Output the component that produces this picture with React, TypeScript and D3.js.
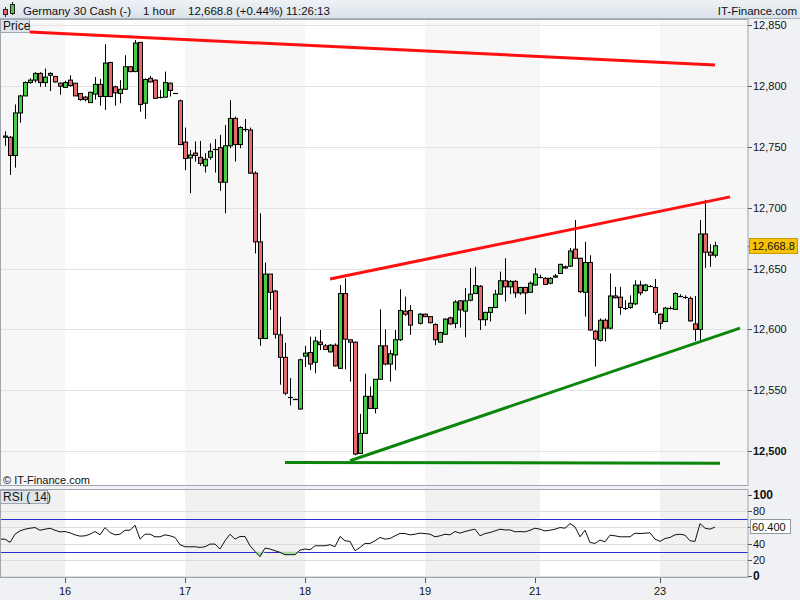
import React, { useEffect } from 'react';
import * as d3 from 'd3';

// ---- data (hourly candles, index 0..142; index 82 has no candle) ----
const OPEN = [
  12758, 12758, 12743, 12778, 12792, 12803, 12805, 12810.5, 12803, 12809,
  12808, 12802.5, 12799, 12805, 12802.5, 12794, 12791, 12786.5, 12793.5, 12801.5,
  12791.5, 12819.5, 12799.5, 12794, 12797.5, 12816, 12812, 12836, 12786, 12806.5,
  12805, 12791, 12791, 12802.5, 12794, 12788, 12754, 12741, 12745, 12741.5,
  12734.5, 12741.5, 12748, 12749.5, 12721, 12751, 12773.5, 12752, 12765, 12764,
  12728.5, 12672, 12592.5, 12645.5, 12631.5, 12595.5, 12577, 12544.5, 12542.5, 12534.5,
  12578, 12581, 12573, 12589.5, 12586.5, 12581.5, 12587, 12568, 12629.5, 12591.5,
  12589.5, 12498, 12514.5, 12545, 12535, 12559, 12586.5, 12571.5, 12579, 12591.5,
  12615, 12615.5, null, 12605, 12612.5, 12610.5, 12604, 12589.5, 12596, 12609.5,
  12605, 12623.5, 12615, 12624, 12629.5, 12635.5, 12608, 12614, 12618, 12629,
  12640, 12635, 12639.5, 12630, 12634.5, 12630.5, 12636.5, 12643.5, 12642, 12638,
  12643, 12646, 12651.5, 12652, 12666, 12658.5, 12630.5, 12655, 12598.5, 12591,
  12607.5, 12601, 12627.5, 12626.5, 12618, 12618, 12621, 12636.5, 12632, 12636,
  12634.5, 12612.5, 12606.5, 12618, 12616.5, 12627.5, 12626.5, 12625.5, 12604.5, 12600,
  12678.5, 12663.5, 12661,
];
const HIGH = [
  12763, 12759, 12785, 12793, 12804, 12806.5, 12811.5, 12811.5, 12814.5, 12811.5,
  12808.5, 12803, 12804.5, 12809, 12802.5, 12794.5, 12792, 12795.5, 12807.5, 12806,
  12834.5, 12820, 12800.5, 12805, 12825.5, 12816.5, 12838, 12836.5, 12806.5, 12808.5,
  12805.5, 12797, 12812, 12803, 12794, 12789, 12766, 12747.5, 12754.5, 12755,
  12745, 12753, 12756.5, 12760, 12768, 12788.5, 12775, 12767, 12773, 12766,
  12730, 12695.5, 12655, 12645.5, 12632.5, 12610.5, 12589, 12560, 12543, 12576,
  12586.5, 12594, 12594, 12599.5, 12588, 12588, 12588.5, 12636.5, 12642, 12591.5,
  12590, 12530.5, 12563.5, 12553, 12559, 12616.5, 12600, 12583, 12599.5, 12633,
  12627, 12620, null, 12613.5, 12613, 12611, 12605, 12598, 12609, 12610.5,
  12624, 12624, 12634, 12650.5, 12651.5, 12636.5, 12614.5, 12618.5, 12632.5, 12647.5,
  12658.5, 12640.5, 12640.5, 12635, 12635, 12639.5, 12650.5, 12645, 12643, 12643,
  12645.5, 12654, 12652.5, 12667, 12690, 12659, 12672, 12661, 12599.5, 12609,
  12609, 12646, 12635, 12635, 12624, 12628, 12640.5, 12640, 12637.5, 12636.5,
  12641.5, 12613, 12618.5, 12619, 12630.5, 12629, 12628, 12627, 12627.5, 12690,
  12706.5, 12670, 12672,
];
const LOW = [
  12751, 12727, 12733, 12770, 12792, 12802, 12803, 12799.5, 12799.5, 12796,
  12803, 12793, 12799, 12799.5, 12792, 12788, 12787.5, 12786.5, 12789, 12784,
  12780.5, 12791, 12784, 12786, 12797, 12811.5, 12811.5, 12779, 12773, 12803,
  12790, 12790, 12791, 12791.5, 12794, 12751.5, 12731, 12712, 12738, 12734.5,
  12729, 12739.5, 12729, 12714, 12695.5, 12749, 12738, 12749, 12762.5, 12728,
  12662.5, 12586.5, 12592, 12616, 12592.5, 12554.5, 12546, 12537.5, 12542, 12534,
  12569, 12566.5, 12564, 12583, 12583, 12581, 12569.5, 12567.5, 12567, 12557,
  12496.5, 12497.5, 12514.5, 12535, 12531, 12559, 12570.5, 12557, 12566.5, 12590.5,
  12611, 12595.5, null, 12604, 12610, 12605, 12587, 12589, 12595.5, 12604,
  12601, 12601.5, 12593.5, 12623, 12629, 12599.5, 12603, 12606.5, 12617.5, 12628.5,
  12623, 12629, 12626, 12628.5, 12612.5, 12630, 12636, 12642, 12636.5, 12637,
  12642.5, 12645.5, 12650, 12651.5, 12658, 12630, 12610.5, 12599, 12569.5, 12590,
  12590, 12600, 12625.5, 12612, 12616, 12617, 12620, 12628, 12631, 12635.5,
  12612, 12600, 12606, 12616.5, 12616, 12626.5, 12625, 12606.5, 12590.5, 12590.5,
  12650.5, 12651.5, 12659,
];
const CLOSE = [
  12759, 12743, 12778, 12792, 12803, 12805, 12810.5, 12803, 12807.5, 12810.5,
  12803.5, 12800, 12803, 12800.5, 12792, 12789, 12789, 12795, 12801.5, 12791.5,
  12819, 12791.5, 12794.5, 12797.5, 12816, 12812, 12835.5, 12785, 12805.5, 12803.5,
  12790, 12791, 12803, 12796.5, 12794, 12752, 12740.5, 12743.5, 12743, 12736.5,
  12740, 12746.5, 12748, 12721, 12751, 12773.5, 12752, 12766, 12765, 12728.5,
  12672, 12592.5, 12645.5, 12630.5, 12596, 12577, 12547.5, 12544.5, 12542.5, 12575,
  12580.5, 12571.5, 12590.5, 12587.5, 12583.5, 12587, 12570, 12629.5, 12592, 12589.5,
  12497.5, 12514.5, 12545, 12535, 12559, 12586.5, 12571.5, 12580, 12591.5, 12615.5,
  12612.5, 12603.5, null, 12612.5, 12610.5, 12605.5, 12591.5, 12597.5, 12608.5, 12604.5,
  12622.5, 12616, 12623.5, 12629, 12636, 12608, 12614, 12618, 12629, 12640,
  12635, 12639.5, 12630, 12634.5, 12630, 12638, 12645.5, 12643.5, 12637, 12642,
  12644, 12653.5, 12650.5, 12664.5, 12658.5, 12631, 12655, 12599.5, 12592, 12607.5,
  12601, 12627.5, 12626, 12618, 12618, 12621.5, 12636.5, 12630, 12636.5, 12636,
  12614, 12605, 12617.5, 12618, 12629.5, 12627.5, 12626.5, 12607, 12600, 12678.5,
  12663.5, 12661, 12668.8,
];
// RSI(14), first value belongs to index -1
const RSI_START = -1;
const RSI = [
  45.5,
  45.5, 41.4, 51.6, 55.7, 57.8, 59.0, 59.8, 56.5, 57.8, 59.0,
  56.5, 54.5, 54.9, 53.3, 50.8, 49.2, 49.6, 51.6, 54.9, 50.8,
  59.8, 53.7, 50.8, 51.6, 56.5, 56.5, 62.7, 45.5, 51.6, 51.6,
  48.4, 48.4, 50.8, 49.6, 47.6, 38.6, 36.1, 36.1, 36.1, 35.3,
  36.1, 39.4, 39.4, 33.3, 43.5, 51.6, 45.5, 48.8, 48.8, 37.3,
  30.4, 23.9, 34.5, 33.3, 31.2, 29.2, 26.3, 26.3, 26.3, 32.0,
  33.3, 32.4, 37.3, 37.3, 37.3, 38.6, 36.1, 48.8, 43.5, 42.7,
  31.2, 35.3, 40.2, 40.2, 43.5, 47.6, 45.5, 46.3, 49.6, 52.6,
  52.4, 50.8, 51.6, 52.9, 52.4, 51.6, 48.4, 49.6, 51.6, 50.8,
  54.9, 52.9, 54.9, 56.5, 57.8, 49.6, 52.4, 53.7, 55.7, 57.8,
  56.9, 56.9, 54.5, 54.9, 54.5, 56.5, 59.0, 57.8, 55.7, 56.5,
  57.8, 59.8, 59.0, 64.7, 60.6, 48.4, 56.5, 41.4, 40.2, 44.3,
  42.2, 50.4, 49.6, 48.4, 48.4, 48.4, 52.9, 52.4, 52.9, 53.3,
  45.5, 42.7, 46.3, 47.6, 50.8, 51.6, 50.4, 43.5, 42.7, 64.7,
  59.0, 57.8, 60.4,
];

const DAY_LABELS = ['16', '17', '18', '19', '21', '23'];
const DAY_TICK_INDEX = [12, 36, 60, 84, 106, 131];
const SHADE_BANDS: [number, number][] = [[-1, 12], [36, 60], [84, 107], [131, 150]];
const PRICE_TICKS = [12500, 12550, 12600, 12650, 12700, 12750, 12800, 12850];
const RSI_TICKS = [100, 80, 40, 20, 0];
const RSI_LEVELS = [70, 30];
const LAST_PRICE = 12668.8;
const LAST_RSI = 60.4;
// trend lines: [candle index, price]
const RED_LINES: [number, number][][] = [
  [[5, 12844.5], [142, 12817.5]],
  [[65, 12641.5], [145, 12709]],
];
const GREEN_LINES: [number, number][][] = [
  [[69, 12492], [147, 12601]],
  [[56, 12490.5], [143, 12490]],
];

const FONT = "'Liberation Sans', Arial, Helvetica, sans-serif";

export default function App() {
  useEffect(() => {
    document.body.style.margin = '0';
  }, []);

  const W = 800, H = 600;
  const plotR = 748;
  const mainTop = 19, mainBot = 486;
  const rsiTop = 489, rsiBot = 578;

  const x = d3.scaleLinear().domain([0, 142]).range([5, 715]);
  const y = d3.scaleLinear().domain([12500, 12850]).range([451, 25.4]);
  const yr = d3.scaleLinear().domain([0, 100]).range([576, 495]);

  const fmt = d3.format(',.0f');
  const fmt1 = d3.format(',.1f');

  const candles = CLOSE.map((c, i) => ({ i, o: OPEN[i], h: HIGH[i], l: LOW[i], c })).filter(d => d.c != null) as any[];

  const rsiPts = RSI.map((r, k) => ({ i: k + RSI_START, r }));
  const rsiLine = d3.line<any>().x(d => x(d.i)).y(d => yr(d.r));
  const rsiArea = d3.area<any>().x(d => x(d.i)).y0(yr(30)).y1(d => yr(Math.min(d.r, 30)));
  const tl = d3.line<[number, number]>().x(d => x(d[0])).y(d => y(d[1]));

  const RED = '#e46b6b';
  const GREEN = '#48cc48';

  return (
    <div style={{ position: 'absolute', left: 0, top: 0 }}>
      <svg width={W} height={H} style={{ display: 'block', fontFamily: FONT }}>
        <defs>
          <linearGradient id="hdr" x1="0" x2="0" y1="0" y2="1">
            <stop offset="0" stopColor="#eef2f6" />
            <stop offset="1" stopColor="#dbe2ea" />
          </linearGradient>
          <clipPath id="mainClip"><rect x={0} y={mainTop} width={plotR} height={mainBot - mainTop} /></clipPath>
          <clipPath id="rsiClip"><rect x={0} y={rsiTop} width={plotR} height={rsiBot - rsiTop} /></clipPath>
        </defs>
        <rect x={0} y={0} width={W} height={H} fill="#eff1f4" />
        {/* header */}
        <rect x={0} y={0} width={W} height={18} fill="url(#hdr)" />
        <line x1={0} x2={W} y1={18.5} y2={18.5} stroke="#a9b2bc" />
        <g>
          <line x1={5.5} x2={5.5} y1={7} y2={17} stroke="#222" />
          <rect x={3.5} y={9.5} width={4} height={5} fill={RED} stroke="#222" />
          <line x1={12.5} x2={12.5} y1={2} y2={15} stroke="#222" />
          <rect x={10.5} y={4.5} width={4} height={9} fill={GREEN} stroke="#222" />
        </g>
        <g fontSize={11.5} fill="#111">
          <text x={23} y={15}>Germany 30 Cash (-)</text>
          <text x={143} y={15}>1 hour</text>
          <text x={188} y={15}>12,668.8 (+0.44%)</text>
          <text x={286} y={15}>11:26:13</text>
          <text x={797} y={15} textAnchor="end">IT-Finance.com</text>
        </g>

        {/* main panel */}
        <rect x={0} y={mainTop} width={plotR} height={mainBot - mainTop} fill="#ffffff" />
        <g clipPath="url(#mainClip)">
          {SHADE_BANDS.map(([a, b], k) => (
            <rect key={k} x={x(a)} y={mainTop} width={x(b) - x(a)} height={mainBot - mainTop} fill="#f7f7f7" />
          ))}
          {PRICE_TICKS.map(v => (
            <line key={v} x1={0} x2={plotR} y1={Math.round(y(v)) + 0.5} y2={Math.round(y(v)) + 0.5} stroke="#e3e3e3" />
          ))}
          {candles.map(d => {
            const px = Math.round(x(d.i));
            const up = d.c >= d.o;
            const yo = y(d.o), yc = y(d.c);
            const top = Math.min(yo, yc), hgt = Math.abs(yo - yc);
            return (
              <g key={d.i}>
                <line x1={px + 0.5} x2={px + 0.5} y1={y(d.h)} y2={y(d.l)} stroke="#000" strokeWidth={1} />
                {hgt < 1.2 ? (
                  <line x1={px - 2} x2={px + 3} y1={Math.round(yc) + 0.5} y2={Math.round(yc) + 0.5} stroke="#000" strokeWidth={1.2} />
                ) : (
                  <rect x={px - 1.5} y={top} width={4} height={hgt} fill={up ? GREEN : RED} stroke="#000" strokeWidth={1} />
                )}
              </g>
            );
          })}
          {RED_LINES.map((l, k) => <path key={'r' + k} d={tl(l) || ''} stroke="#ff1010" strokeWidth={3} fill="none" />)}
          {GREEN_LINES.map((l, k) => <path key={'g' + k} d={tl(l) || ''} stroke="#0b860b" strokeWidth={3} fill="none" />)}
        </g>
        <rect x={0.5} y={mainTop + 0.5} width={plotR - 0.5} height={mainBot - mainTop - 1} fill="none" stroke="#9ea7b0" />
        <rect x={0.5} y={19.5} width={29} height={13} fill="#dfe5eb" stroke="#9ea7b0" />
        <text x={3} y={30} fontSize={12} fill="#111">Price</text>
        <text x={3} y={484} fontSize={11} fill="#111">© IT-Finance.com</text>

        {/* main axis */}
        {PRICE_TICKS.map(v => (
          <g key={v}>
            <line x1={plotR} x2={plotR + 4} y1={Math.round(y(v)) + 0.5} y2={Math.round(y(v)) + 0.5} stroke="#555" />
            <text x={753} y={y(v) + 4} fontSize={11} fill="#111" fontWeight={v === 12500 ? 'bold' : 'normal'}>{fmt(v)}</text>
          </g>
        ))}
        <line x1={plotR} x2={plotR + 4} y1={Math.round(y(LAST_PRICE)) + 0.5} y2={Math.round(y(LAST_PRICE)) + 0.5} stroke="#555" />
        <rect x={749.5} y={Math.round(y(LAST_PRICE)) - 7.5} width={48} height={15} fill="#f6c20a" stroke="#c99a00" />
        <text x={752} y={y(LAST_PRICE) + 4} fontSize={11} fill="#111">{fmt1(LAST_PRICE)}</text>

        {/* RSI panel */}
        <rect x={0} y={rsiTop} width={plotR} height={rsiBot - rsiTop} fill="#ffffff" />
        <g clipPath="url(#rsiClip)">
          {SHADE_BANDS.map(([a, b], k) => (
            <rect key={k} x={x(a)} y={rsiTop} width={x(b) - x(a)} height={rsiBot - rsiTop} fill="#f1f1f1" />
          ))}
          {[80, 60, 40, 20, 0].map(v => (
            <line key={v} x1={0} x2={plotR} y1={Math.round(yr(v)) + 0.5} y2={Math.round(yr(v)) + 0.5} stroke="#dcdcdc" />
          ))}
          {RSI_LEVELS.map(v => (
            <line key={v} x1={0} x2={plotR} y1={Math.round(yr(v)) + 0.5} y2={Math.round(yr(v)) + 0.5} stroke="#2b2bd6" />
          ))}
          <path d={rsiArea(rsiPts) || ''} fill="#a6dca6" />
          <path d={rsiLine(rsiPts) || ''} fill="none" stroke="#111" strokeWidth={1} />
        </g>
        <rect x={0.5} y={rsiTop + 0.5} width={plotR - 0.5} height={rsiBot - rsiTop - 1} fill="none" stroke="#9ea7b0" />
        <rect x={0.5} y={490.5} width={47} height={13} fill="#dfe5eb" stroke="#9ea7b0" />
        <text x={3} y={501} fontSize={12} fill="#111">RSI ( 14)</text>
        {RSI_TICKS.map(v => (
          <g key={v}>
            <line x1={plotR} x2={plotR + 4} y1={Math.round(yr(v)) + 0.5} y2={Math.round(yr(v)) + 0.5} stroke="#555" />
            <text x={753} y={yr(v) + 4} fontSize={v === 100 || v === 0 ? 12 : 11} fontWeight={v === 100 || v === 0 ? 'bold' : 'normal'} fill="#111">{v}</text>
          </g>
        ))}
        <line x1={plotR} x2={plotR + 4} y1={Math.round(yr(LAST_RSI)) + 0.5} y2={Math.round(yr(LAST_RSI)) + 0.5} stroke="#555" />
        <rect x={750.5} y={Math.round(yr(LAST_RSI)) - 7.5} width={40} height={14} fill="#ffffff" stroke="#8f979f" />
        <text x={752} y={yr(LAST_RSI) + 4} fontSize={11} fill="#111">{LAST_RSI.toFixed(3)}</text>

        {/* x axis */}
        {DAY_TICK_INDEX.map((idx, k) => (
          <g key={k}>
            <line x1={Math.round(x(idx)) + 0.5} x2={Math.round(x(idx)) + 0.5} y1={rsiBot} y2={rsiBot + 5} stroke="#555" />
            <text x={x(idx)} y={595} fontSize={11} textAnchor="middle" fill="#111">{DAY_LABELS[k]}</text>
          </g>
        ))}
      </svg>
    </div>
  );
}
